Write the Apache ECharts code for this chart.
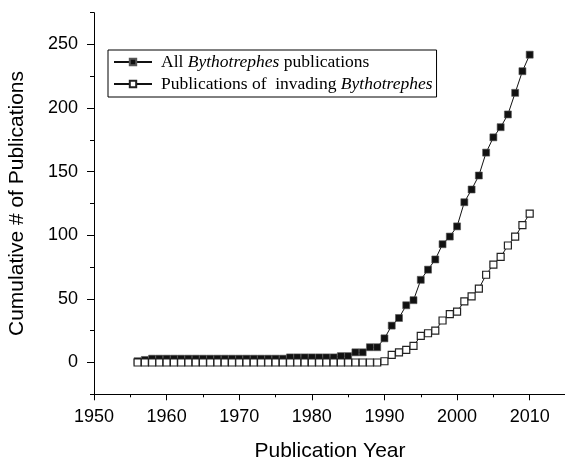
<!DOCTYPE html>
<html><head><meta charset="utf-8">
<script src="https://cdn.jsdelivr.net/npm/echarts@6/dist/echarts.min.js"></script>
<style>html,body{margin:0;padding:0;background:#fff}#c{width:565px;height:460px}</style>
</head><body><div id="c"></div>
<script>
var years = [1956,1957,1958,1959,1960,1961,1962,1963,1964,1965,1966,1967,1968,1969,1970,1971,1972,1973,1974,1975,1976,1977,1978,1979,1980,1981,1982,1983,1984,1985,1986,1987,1988,1989,1990,1991,1992,1993,1994,1995,1996,1997,1998,1999,2000,2001,2002,2003,2004,2005,2006,2007,2008,2009,2010];
var allPubs = [1,2,3,3,3,3,3,3,3,3,3,3,3,3,3,3,3,3,3,3,3,4,4,4,4,4,4,4,5,5,8,8,12,12,19,29,35,45,49,65,73,81,93,99,107,126,136,147,165,177,185,195,212,229,242];
var invadingPubs = [0,0,0,0,0,0,0,0,0,0,0,0,0,0,0,0,0,0,0,0,0,0,0,0,0,0,0,0,0,0,0,0,0,0,1,6,8,10,13,21,23,25,33,38,40,48,52,58,69,77,83,92,99,108,117];
var yTickLabels = [0,50,100,150,200,250];
var yMinorTicks = [-25,25,75,125,175,225,275];
var seriesNames = ['All Bythotrephes publications', 'Publications of  invading Bythotrephes'];
var xTitle = 'Publication Year';
var yTitle = 'Cumulative # of Publications';

function pairs(v){ return years.map(function(y,i){ return [y, v[i]]; }); }

var chart = echarts.init(document.getElementById('c'), null, {renderer:'canvas'});
var sansFont = 'Liberation Sans, Arial, sans-serif';
var serifFont = 'Liberation Serif, Times New Roman, serif';
chart.setOption({
  animation:false,
  backgroundColor:'#fff',
  grid:{left:94, top:12.7, width:472, height:381.6, containLabel:false, outerBoundsMode:'none'},
  legend:{
    left:108, top:50, orient:'vertical',
    itemWidth:38, itemHeight:8, itemGap:4,
    padding:[3,4,4,5],
    borderColor:'#000', borderWidth:1,
    inactiveColor:'#000',
    data:seriesNames,
    formatter:function(n){
      if(n===seriesNames[0]) return '{r|All }{i|Bythotrephes}{r| publications}';
      return '{r|Publications of  invading }{i|Bythotrephes}';
    },
    textStyle:{
      fontFamily:serifFont, fontSize:17.5, color:'#000', padding:[0,0,0,4],
      rich:{
        r:{fontFamily:serifFont, fontSize:17.5, color:'#000'},
        i:{fontFamily:serifFont, fontSize:17.5, color:'#000', fontStyle:'italic'}
      }
    }
  },
  xAxis:{
    type:'value', min:1950, max:2015, interval:10,
    name:xTitle, nameLocation:'middle', nameGap:46,
    nameTextStyle:{fontFamily:sansFont, fontSize:21, color:'#000'},
    axisLine:{onZero:false, lineStyle:{color:'#000', width:1}},
    axisTick:{show:true, length:6, lineStyle:{color:'#000'}},
    minorTick:{show:true, splitNumber:2, length:3, lineStyle:{color:'#000'}},
    axisLabel:{fontFamily:sansFont, fontSize:18, color:'#000', margin:14,
      formatter:function(v){ return v>2010 ? '' : String(v); }},
    splitLine:{show:false}
  },
  yAxis:[{
    type:'value', min:-25, max:275, interval:25,
    name:yTitle, nameLocation:'middle', nameGap:66, nameRotate:90,
    nameTextStyle:{fontFamily:sansFont, fontSize:21, color:'#000'},
    axisLine:{show:true, onZero:false, lineStyle:{color:'#000', width:1}},
    axisTick:{show:true, length:7, customValues:yTickLabels, lineStyle:{color:'#000'}},
    axisLabel:{fontFamily:sansFont, fontSize:18, color:'#000', margin:16, customValues:yTickLabels},
    splitLine:{show:false}
  },{
    type:'value', min:-25, max:275, interval:25, position:'left',
    axisLine:{show:false},
    axisTick:{show:true, length:4, customValues:yMinorTicks, lineStyle:{color:'#000'}},
    axisLabel:{show:false},
    splitLine:{show:false}
  }],
  series:[
    {
      name:seriesNames[0], type:'line', data:pairs(allPubs),
      symbol:'rect', symbolSize:7, showAllSymbol:true,
      lineStyle:{color:'#111', width:1},
      itemStyle:{color:'#111', borderColor:'#555', borderWidth:0.6},
      z:2
    },
    {
      name:seriesNames[1], type:'line', data:pairs(invadingPubs),
      symbol:'rect', symbolSize:7, showAllSymbol:true,
      lineStyle:{color:'#111', width:1},
      itemStyle:{color:'#fff', borderColor:'#222', borderWidth:1.2},
      z:3
    }
  ]
});
</script></body></html>
